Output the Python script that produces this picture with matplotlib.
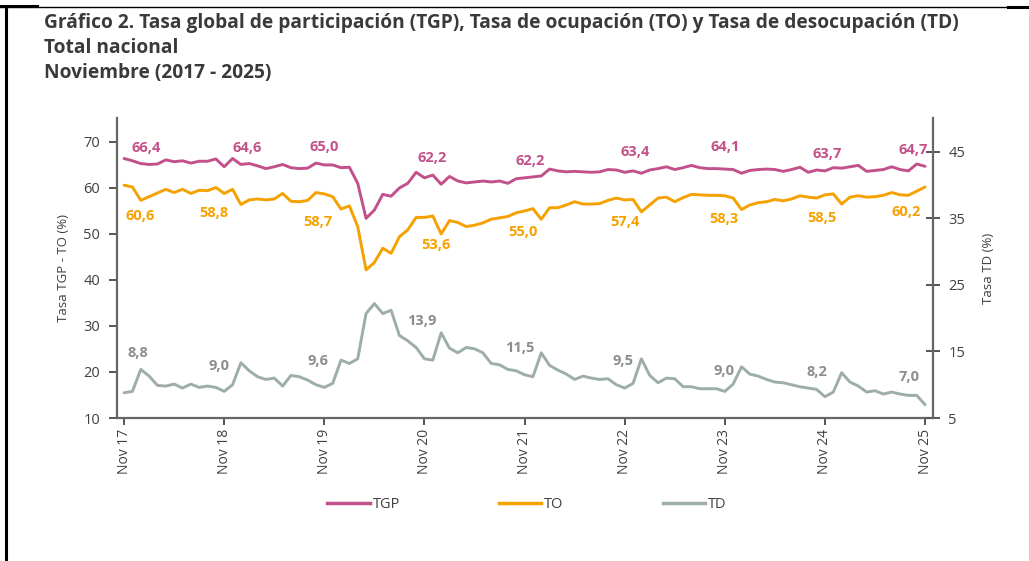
import matplotlib.pyplot as plt
from matplotlib.lines import Line2D

# monthly series, Nov 2017 .. Nov 2025 (rolling quarter)
tgp = [66.4, 65.9, 65.3, 65.1, 65.2, 66.1, 65.7, 65.9, 65.4, 65.8, 65.8, 66.3,
       64.6, 66.4, 65.1, 65.3, 64.8, 64.2, 64.6, 65.1, 64.4, 64.2, 64.3, 65.4,
       65.0, 65.0, 64.4, 64.5, 61.0, 53.4, 55.2, 58.6, 58.2, 60.0, 61.0, 63.4,
       62.2, 62.8, 60.8, 62.5, 61.5, 61.1, 61.3, 61.5, 61.3, 61.5, 61.0, 62.0,
       62.2, 62.4, 62.6, 64.1, 63.7, 63.5, 63.6, 63.5, 63.4, 63.5, 64.0, 63.9,
       63.4, 63.7, 63.2, 63.9, 64.2, 64.6, 64.0, 64.4, 64.9, 64.4, 64.2, 64.2,
       64.1, 64.0, 63.2, 63.8, 64.0, 64.1, 64.0, 63.6, 64.0, 64.5, 63.4, 63.9,
       63.7, 64.4, 64.3, 64.6, 64.9, 63.6, 63.8, 64.0, 64.6, 64.0, 63.7, 65.2,
       64.7]
to = [60.6, 60.2, 57.3, 58.1, 58.9, 59.7, 59.0, 59.7, 58.8, 59.5, 59.4, 60.1,
      58.8, 59.7, 56.4, 57.4, 57.6, 57.4, 57.6, 58.8, 57.1, 57.0, 57.3, 59.0,
      58.7, 58.1, 55.4, 56.1, 51.6, 42.2, 43.8, 46.9, 45.8, 49.4, 50.9, 53.6,
      53.6, 53.9, 50.0, 52.9, 52.5, 51.6, 51.9, 52.4, 53.2, 53.5, 53.8, 54.6,
      55.0, 55.5, 53.2, 55.7, 55.7, 56.3, 57.0, 56.5, 56.5, 56.6, 57.3, 57.8,
      57.4, 57.5, 54.8, 56.3, 57.8, 58.0, 57.0, 57.9, 58.6, 58.5, 58.4, 58.4,
      58.3, 57.8, 55.3, 56.3, 56.8, 57.0, 57.5, 57.2, 57.6, 58.3, 58.0, 57.8,
      58.5, 58.7, 56.5, 58.0, 58.3, 58.0, 58.1, 58.4, 59.0, 58.5, 58.4, 59.3,
      60.2]
td = [8.8, 9.0, 12.3, 11.3, 9.9, 9.8, 10.1, 9.5, 10.1, 9.6, 9.8, 9.6,
      9.0, 10.0, 13.3, 12.1, 11.2, 10.8, 11.0, 9.8, 11.4, 11.2, 10.7, 10.0,
      9.6, 10.2, 13.7, 13.2, 13.9, 20.7, 22.2, 20.7, 21.2, 17.4, 16.6, 15.6,
      13.9, 13.7, 17.8, 15.5, 14.8, 15.6, 15.4, 14.8, 13.2, 13.0, 12.3, 12.1,
      11.5, 11.2, 14.8, 12.9, 12.2, 11.6, 10.8, 11.3, 11.0, 10.8, 10.9, 10.0,
      9.5, 10.2, 13.9, 11.4, 10.3, 11.0, 10.9, 9.7, 9.7, 9.4, 9.4, 9.4,
      9.0, 10.1, 12.7, 11.6, 11.3, 10.8, 10.4, 10.3, 10.0, 9.7, 9.5, 9.3,
      8.2, 8.9, 11.8, 10.4, 9.8, 8.9, 9.1, 8.6, 8.9, 8.6, 8.4, 8.4,
      7.0]
tick_labels = ['Nov 17', 'Nov 18', 'Nov 19', 'Nov 20', 'Nov 21',
               'Nov 22', 'Nov 23', 'Nov 24', 'Nov 25']

# label offsets in pixels (dx, dy) for each November label
tgp_off = [(22, 10), (23, 19), (0, 18), (8, 20), (6, 17), (10, 20), (0, 22), (2, 17), (-12, 16)]
to_off = [(16, -31), (-10, -20), (-6, -28), (11, -28), (-2, -21), (0, -22), (-1, -23), (-3, -23), (-19, -25)]
td_off = [(14, 40), (-5, 25), (-6, 26), (-3, 38), (-5, 27), (-2, 27), (-1, 20), (-8, 25), (-16, 28)]

C_TGP = '#c2508a'
C_TO = '#f5a100'
C_TD = '#9dada9'
C_TXT = '#404040'

plt.rcParams['font.family'] = ['Open Sans', 'DejaVu Sans']

fig = plt.figure(figsize=(10.29, 5.61), dpi=100)
W, H = 1029, 561
ax = fig.add_axes([117 / W, 1 - 418 / H, (933 - 117) / W, 300 / H])
ax2 = ax.twinx()

x = list(range(len(tgp)))
ax.plot(x, tgp, color=C_TGP, lw=2.1, label='TGP', solid_capstyle='round', solid_joinstyle='round')
ax.plot(x, to, color=C_TO, lw=2.1, label='TO', solid_capstyle='round', solid_joinstyle='round')
ax2.plot(x, td, color=C_TD, lw=2.1, label='TD', solid_capstyle='round', solid_joinstyle='round')

def fmt(v):
    return f'{v:.1f}'.replace('.', ',')

nov = list(range(0, len(tgp), 12))
for i, k in enumerate(nov):
    ax.annotate(fmt(tgp[k]), (k, tgp[k]), xytext=tgp_off[i], textcoords='offset pixels',
                ha='center', va='center', color=C_TGP, fontsize=10.5, fontweight='bold')
    ax.annotate(fmt(to[k]), (k, to[k]), xytext=to_off[i], textcoords='offset pixels',
                ha='center', va='center', color=C_TO, fontsize=10.5, fontweight='bold')
    ax2.annotate(fmt(td[k]), (k, td[k]), xytext=td_off[i], textcoords='offset pixels',
                 ha='center', va='center', color='#8a8f8e', fontsize=10.5, fontweight='bold')

ax.set_xlim(-0.85, 96.95)
ax.set_ylim(10, 75.2)
ax2.set_ylim(5, 50.1)
ax.set_yticks([10, 20, 30, 40, 50, 60, 70])
ax2.set_yticks([5, 15, 25, 35, 45])
ax.set_xticks(nov)
ax.set_xticklabels(tick_labels, rotation=90)

for a in (ax, ax2):
    a.spines['top'].set_visible(False)
    for s in ('left', 'right', 'bottom'):
        a.spines[s].set_color('#666666')
        a.spines[s].set_linewidth(1.6)
ax.spines['right'].set_visible(False)
ax2.spines['left'].set_visible(False)
ax2.spines['bottom'].set_visible(False)

ax.tick_params(axis='y', direction='out', length=6, width=1.4, color='#555555',
               labelsize=10.5, labelcolor=C_TXT, pad=6)
ax.tick_params(axis='x', direction='out', length=5, width=1.4, color='#555555',
               labelsize=10, labelcolor=C_TXT, pad=3)
ax2.tick_params(axis='y', direction='inout', length=10, width=1.4, color='#555555',
                labelsize=10.5, labelcolor=C_TXT, pad=6)

ax.set_ylabel('Tasa TGP - TO (%)', fontsize=9.5, color=C_TXT, labelpad=10)
ax2.set_ylabel('Tasa TD (%)', fontsize=9.5, color=C_TXT, labelpad=12)

handles = [Line2D([], [], color=C_TGP, lw=2.5),
           Line2D([], [], color=C_TO, lw=2.5),
           Line2D([], [], color=C_TD, lw=2.5)]
leg = fig.legend(handles, ['TGP', 'TO', 'TD'], loc='center', bbox_to_anchor=(527 / W, 1 - 505 / H),
                 ncol=3, frameon=False, fontsize=10.5, handlelength=2.9, handletextpad=0.2,
                 columnspacing=6.8)
for t in leg.get_texts():
    t.set_color(C_TXT)

title = ['Gráfico 2. Tasa global de participación (TGP), Tasa de ocupación (TO) y Tasa de desocupación (TD)',
         'Total nacional',
         'Noviembre (2017 - 2025)']
for i, line in enumerate(title):
    fig.text(44 / W, 1 - (23 + 25 * i) / H, line, ha='left', va='center',
             fontsize=13.8, fontweight='bold', color='#3a3a3a')

# page frame
fig.add_artist(Line2D([6 / W, 6 / W], [0, 1 - 7 / H], color='black', lw=2.2, transform=fig.transFigure))
fig.add_artist(Line2D([0, 1], [1 - 7 / H, 1 - 7 / H], color='black', lw=1.0, transform=fig.transFigure))
fig.add_artist(Line2D([0, 37 / W], [1 - 6 / H, 1 - 6 / H], color='black', lw=2.2, transform=fig.transFigure))
fig.add_artist(Line2D([1008 / W, 1], [1 - 7 / H, 1 - 7 / H], color='black', lw=2.2, transform=fig.transFigure))

fig.savefig('out.png', dpi=100)
